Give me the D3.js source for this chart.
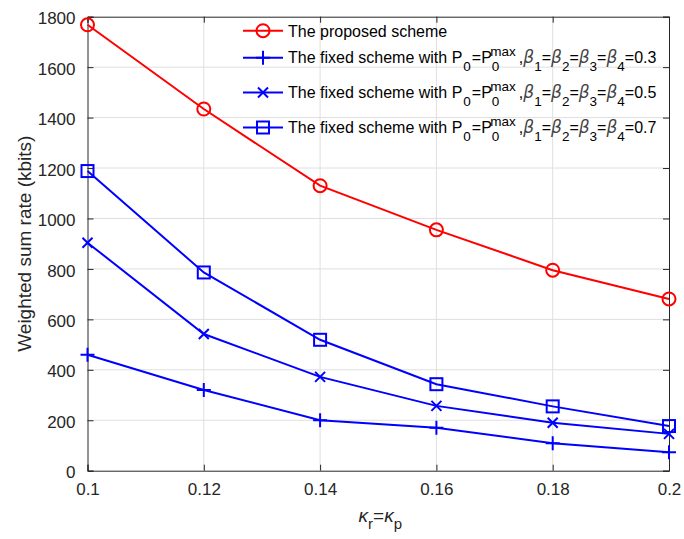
<!DOCTYPE html>
<html>
<head>
<meta charset="utf-8">
<script src="https://cdn.jsdelivr.net/npm/d3@7/dist/d3.min.js"></script>
<style>
  html, body { margin: 0; padding: 0; background: #fff; }
  svg { display: block; font-family: "Liberation Sans", Arial, Helvetica, sans-serif; }
</style>
</head>
<body>
<svg id="chart" width="684" height="539"></svg>
<script>
// Impairment level kappa_r = kappa_p on the x axis
const kappa = [0.1, 0.12, 0.14, 0.16, 0.18, 0.2];
// Weighted sum rate (kbits) for each scheme
const proposed = [1768, 1434, 1130, 955, 795, 681];
const fixed03 = [460, 320, 200, 170, 109, 73];
const fixed05 = [904, 542, 372, 257, 190, 146];
const fixed07 = [1188, 786, 519, 343, 255, 177];
const betaValues = ["0.3", "0.5", "0.7"];
const xTicks = [0.1, 0.12, 0.14, 0.16, 0.18, 0.2];
const yTicks = [0, 200, 400, 600, 800, 1000, 1200, 1400, 1600, 1800];

const svg = d3.select("#chart");
const plotL = 87.5, plotR = 669, plotT = 16.7, plotB = 470.7;
const x = d3.scaleLinear().domain([0.1, 0.2]).range([plotL, plotR]);
const y = d3.scaleLinear().domain([0, 1800]).range([plotB, plotT]);
const axisColor = "#262626";
const gridColor = "#dfdfdf";

// grid
const grid = svg.append("g");
grid.selectAll("line.gx").data(xTicks.slice(1, -1)).join("line")
  .attr("x1", d => x(d)).attr("x2", d => x(d)).attr("y1", plotT).attr("y2", plotB)
  .attr("stroke", gridColor).attr("stroke-width", 1);
grid.selectAll("line.gy").data(yTicks.slice(1, -1)).join("line")
  .attr("y1", d => y(d)).attr("y2", d => y(d)).attr("x1", plotL).attr("x2", plotR)
  .attr("stroke", gridColor).attr("stroke-width", 1);

// axes (ticks inward, box on all sides)
const tickLen = 6;
const fmtX = d => String(+d.toFixed(2));
const xAxisB = d3.axisBottom(x).tickValues(xTicks).tickSize(-tickLen).tickPadding(12).tickFormat(fmtX);
const xAxisT = d3.axisTop(x).tickValues(xTicks).tickSize(-tickLen).tickFormat("");
const yAxisL = d3.axisLeft(y).tickValues(yTicks).tickSize(-tickLen).tickPadding(12).tickFormat(d3.format("d"));
const yAxisR = d3.axisRight(y).tickValues(yTicks).tickSize(-tickLen).tickFormat("");

function styleAxis(g) {
  g.select(".domain").attr("stroke", axisColor).attr("stroke-width", 1);
  g.selectAll(".tick line").attr("stroke", axisColor);
  g.selectAll(".tick text").attr("fill", axisColor)
    .attr("font-size", 17).attr("font-family", "Liberation Sans, Arial, sans-serif");
}
svg.append("g").attr("transform", `translate(0,${plotB})`).call(xAxisB).call(styleAxis);
svg.append("g").attr("transform", `translate(0,${plotT})`).call(xAxisT).call(styleAxis);
svg.append("g").attr("transform", `translate(${plotL},0)`).call(yAxisL).call(styleAxis)
  .selectAll(".tick text").attr("dy", "0.42em");
svg.append("g").attr("transform", `translate(${plotR},0)`).call(yAxisR).call(styleAxis);

// series
const series = [
  { values: proposed, color: "#ff0000", marker: "circle" },
  { values: fixed03, color: "#0000ff", marker: "plus" },
  { values: fixed05, color: "#0000ff", marker: "cross" },
  { values: fixed07, color: "#0000ff", marker: "square" }
];

const line = d3.line().x(d => x(d[0])).y(d => y(d[1]));

function drawMarker(g, type, cx, cy, color) {
  if (type === "circle") {
    g.append("circle").attr("cx", cx).attr("cy", cy).attr("r", 6.5)
      .attr("fill", "none").attr("stroke", color).attr("stroke-width", 2);
  } else if (type === "square") {
    g.append("rect").attr("x", cx - 6).attr("y", cy - 6).attr("width", 12).attr("height", 12)
      .attr("fill", "none").attr("stroke", color).attr("stroke-width", 2);
  } else if (type === "plus") {
    g.append("path").attr("d", `M${cx - 7},${cy}H${cx + 7}M${cx},${cy - 7}V${cy + 7}`)
      .attr("stroke", color).attr("stroke-width", 2);
  } else if (type === "cross") {
    const s = 5;
    g.append("path").attr("d", `M${cx - s},${cy - s}L${cx + s},${cy + s}M${cx - s},${cy + s}L${cx + s},${cy - s}`)
      .attr("stroke", color).attr("stroke-width", 2);
  }
}

series.forEach(s => {
  const pts = kappa.map((k, i) => [k, s.values[i]]);
  const g = svg.append("g");
  g.append("path").datum(pts).attr("d", line)
    .attr("fill", "none").attr("stroke", s.color).attr("stroke-width", 2);
  pts.forEach(p => drawMarker(g, s.marker, x(p[0]), y(p[1]), s.color));
});

// legend
const legend = svg.append("g").attr("font-size", 16).attr("fill", "#000");
const legX0 = 243, legX1 = 283, legTextX = 288;
const rowLine = [30.7, 57.7, 92.5, 127.5];
const rowBase = [36.5, 63, 98, 133];
const subSize = 13.5;

// width of a subscript "0", used to stack the superscript above it
const probe = svg.append("text").attr("font-size", subSize).text("0");
const w0 = probe.node().getComputedTextLength();
probe.remove();

series.forEach((s, i) => {
  legend.append("line").attr("x1", legX0).attr("x2", legX1)
    .attr("y1", rowLine[i]).attr("y2", rowLine[i])
    .attr("stroke", s.color).attr("stroke-width", 2);
  drawMarker(legend, s.marker, (legX0 + legX1) / 2, rowLine[i], s.color);

  const t = legend.append("text").attr("x", legTextX).attr("y", rowBase[i]);
  if (i === 0) {
    t.text("The proposed scheme");
    return;
  }
  const parts = [
    { s: "The fixed scheme with P" },
    { s: "0", size: subSize, dy: 8, dx: 1 },
    { s: "=P", dy: -8, dx: 1 },
    { s: "0", size: subSize, dy: 8 },
    { s: "max", size: subSize, dy: -15, dx: -w0 - 1.5 },
    { s: ",", dy: 7, dx: 3 },
    { s: "β", italic: true },
    { s: "1", size: subSize, dy: 8 },
    { s: "=", dy: -8 },
    { s: "β", italic: true },
    { s: "2", size: subSize, dy: 8 },
    { s: "=", dy: -8 },
    { s: "β", italic: true },
    { s: "3", size: subSize, dy: 8 },
    { s: "=", dy: -8 },
    { s: "β", italic: true },
    { s: "4", size: subSize, dy: 8 },
    { s: "=" + betaValues[i - 1], dy: -8 }
  ];
  parts.forEach(p => {
    const ts = t.append("tspan").text(p.s);
    if (p.size) ts.attr("font-size", p.size);
    if (p.dy) ts.attr("dy", p.dy);
    if (p.dx) ts.attr("dx", p.dx);
    if (p.italic) ts.attr("font-style", "italic").attr("fill", "#444")
      .attr("font-family", "DejaVu Sans, sans-serif").attr("font-size", 17);
  });
});

// axis labels
svg.append("text")
  .attr("transform", `translate(31,${(plotT + plotB) / 2}) rotate(-90)`)
  .attr("text-anchor", "middle").attr("font-size", 19).attr("fill", axisColor)
  .text("Weighted sum rate (kbits)");

const xl = svg.append("text").attr("x", (plotL + plotR) / 2 + 2).attr("y", 522)
  .attr("text-anchor", "middle").attr("font-size", 19).attr("fill", axisColor);
xl.append("tspan").text("κ").attr("font-style", "italic");
xl.append("tspan").text("r").attr("font-size", 15).attr("dy", 7);
xl.append("tspan").text("=").attr("dy", -7);
xl.append("tspan").text("κ").attr("font-style", "italic");
xl.append("tspan").text("p").attr("font-size", 15).attr("dy", 7);
</script>
</body>
</html>
